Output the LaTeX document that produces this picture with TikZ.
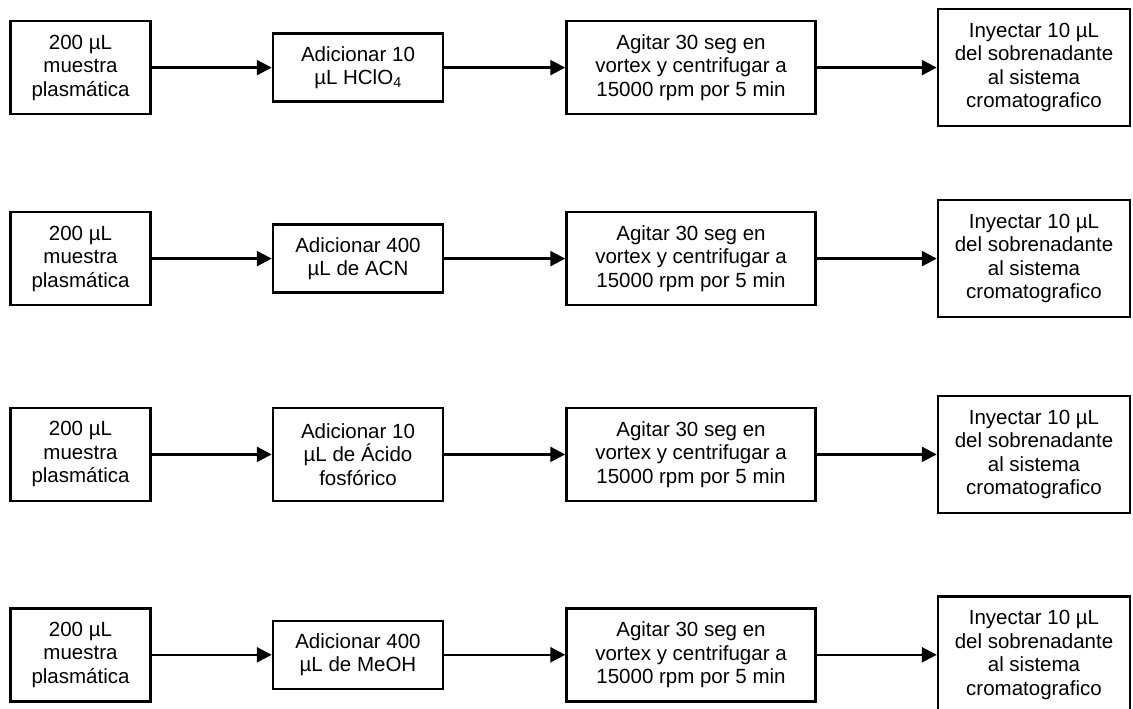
\documentclass[tikz,border=0pt]{standalone}
\usepackage{fontspec}
\setmainfont{Liberation Sans}
\usetikzlibrary{arrows.meta}

\begin{document}
\begin{tikzpicture}[x=1pt, y=-1pt,
				>={Triangle[length=15pt,width=15pt]},   %Pfeilspitzen
				caja/.style={draw, line width=2.5pt, align=center, inner sep=0pt, font=\fontsize{20.5}{23.5}\selectfont},
				flecha/.style={->, line width=2.5pt}]
				%Bildbereich
				\useasboundingbox (0,0) rectangle (1133,709);
				% Zeilen zeichnen
				\foreach \i/\y/\hb/\txt in {1/67.6/68/{Adicionar 10\\µL HClO\textsubscript{4}},
						2/258.6/68/{Adicionar 400\\µL de ACN},
						3/454.4/93/{Adicionar 10\\µL de Ácido\\fosfórico},
						4/654.8/68/{Adicionar 400\\µL de MeOH}} {
					\node[caja, minimum width=140pt, minimum height=93pt] (a\i) at (80.5,\y) {200 µL\\muestra\\plasmática};
					\node[caja, minimum width=170pt, minimum height=\hb] (b\i) at (358,\y) {\txt};
					\node[caja, minimum width=249pt, minimum height=93pt] (c\i) at (691,\y) {Agitar 30 seg en\\vortex y centrifugar a\\15000 rpm por 5 min};
					\node[caja, minimum width=192pt, minimum height=117pt] (d\i) at (1034,\y) {Inyectar 10 µL\\del sobrenadante\\al sistema\\cromatografico};
					% Pfeile
					\draw[flecha] (a\i) -- (b\i);
					\draw[flecha] (b\i) -- (c\i);
					\draw[flecha] (c\i) -- (d\i);
				}
			\end{tikzpicture}
\end{document}
